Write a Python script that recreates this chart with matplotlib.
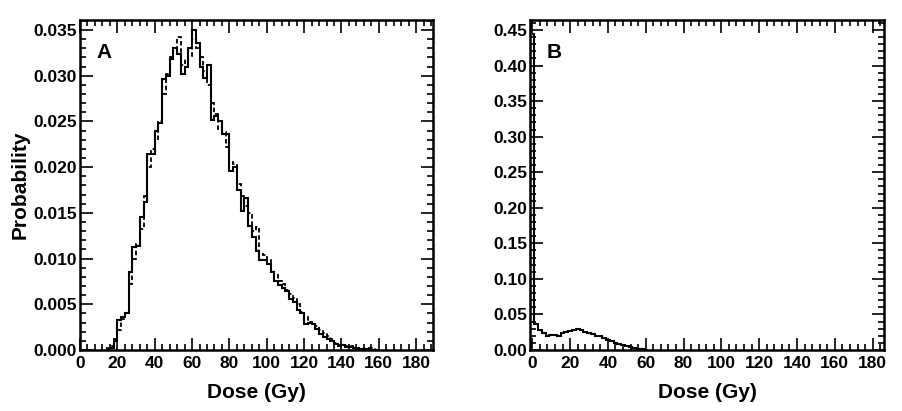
import matplotlib
matplotlib.use("Agg")
import matplotlib.pyplot as plt
import numpy as np
from matplotlib.ticker import MultipleLocator, FormatStrFormatter

plt.rcParams['font.family'] = ['Liberation Sans', 'DejaVu Sans']
plt.rcParams['font.weight'] = 'bold'

# panel A: 2 Gy bins from 14 to 160 Gy
edges_a = np.arange(14, 162, 2)
solid_a = [0.0000, 0.0002, 0.0010, 0.0033, 0.0036, 0.0040, 0.0085, 0.0113, 0.0114, 0.0146,
           0.0162, 0.0214, 0.0214, 0.0240, 0.0248, 0.0296, 0.0300, 0.0318, 0.0330, 0.0324,
           0.0302, 0.0310, 0.0330, 0.0350, 0.0336, 0.0310, 0.0298, 0.0312, 0.0252, 0.0256,
           0.0250, 0.0236, 0.0236, 0.0196, 0.0200, 0.0175, 0.0152, 0.0166, 0.0136, 0.0124,
           0.0108, 0.0098, 0.0098, 0.0094, 0.0085, 0.0076, 0.0071, 0.0068, 0.0064, 0.0056,
           0.0053, 0.0044, 0.0040, 0.0028, 0.0030, 0.0028, 0.0023, 0.0018, 0.0014, 0.0012,
           0.0010, 0.0007, 0.0004, 0.0005, 0.0003, 0.0003, 0.0002, 0.0001, 0.0001, 0.0001,
           0.0000, 0.0000, 0.0000]
dashed_a = [0.0002, 0.0004, 0.0012, 0.0022, 0.0034, 0.0040, 0.0072, 0.0100, 0.0116, 0.0132,
            0.0168, 0.0200, 0.0220, 0.0230, 0.0250, 0.0280, 0.0302, 0.0320, 0.0328, 0.0342,
            0.0312, 0.0318, 0.0322, 0.0340, 0.0330, 0.0320, 0.0305, 0.0290, 0.0270, 0.0258,
            0.0242, 0.0238, 0.0222, 0.0206, 0.0204, 0.0182, 0.0168, 0.0158, 0.0150, 0.0130,
            0.0135, 0.0105, 0.0104, 0.0098, 0.0088, 0.0082, 0.0076, 0.0072, 0.0066, 0.0061,
            0.0057, 0.0050, 0.0042, 0.0036, 0.0031, 0.0030, 0.0026, 0.0022, 0.0019, 0.0015,
            0.0012, 0.0008, 0.0006, 0.0006, 0.0004, 0.0004, 0.0003, 0.0002, 0.0002, 0.0001,
            0.0002, 0.0002, 0.0000]

# panel B
edges_b = [0, 1] + list(range(3, 63, 2))
vals_b = [0.445, 0.037, 0.028, 0.024, 0.020, 0.021, 0.021, 0.019, 0.024, 0.026,
          0.027, 0.028, 0.029, 0.028, 0.026, 0.024, 0.022, 0.020, 0.019, 0.017,
          0.014, 0.012, 0.010, 0.008, 0.007, 0.005, 0.004, 0.003, 0.002, 0.001, 0.0005]

fig = plt.figure(figsize=(9.03, 4.11), dpi=100)
axA = fig.add_axes([80/903, 61/411, 353/903, 330/411])
axB = fig.add_axes([530/903, 61/411, 354/903, 330/411])


def hist_line(ax, edges, vals, **kw):
    ax.stairs(vals, edges, baseline=None, color='black', **kw)


hist_line(axA, edges_a, dashed_a, lw=1.3, linestyle=(0, (2.5, 1.5)))
hist_line(axA, edges_a, solid_a, lw=1.5)
hist_line(axB, edges_b, vals_b, lw=1.5)

axA.set_xlim(0, 189)
axA.set_ylim(0, 0.0361)
axB.set_xlim(-1.2, 186)
axB.set_ylim(0, 0.464)

for ax, ymaj, ymin, fmt in [(axA, 0.005, 0.001, '%.3f'), (axB, 0.05, 0.01, '%.2f')]:
    ax.xaxis.set_major_locator(MultipleLocator(20))
    ax.xaxis.set_minor_locator(MultipleLocator(4))
    ax.yaxis.set_major_locator(MultipleLocator(ymaj))
    ax.yaxis.set_minor_locator(MultipleLocator(ymin))
    ax.yaxis.set_major_formatter(FormatStrFormatter(fmt))
    ax.tick_params(which='both', direction='in', top=True, right=True, width=1.2,
                   labelsize=12.5)
    ax.tick_params(which='major', length=9)
    ax.tick_params(which='minor', length=4.5)
    ax.tick_params(axis='x', pad=4)
    ax.tick_params(axis='y', pad=2)
    for s in ax.spines.values():
        s.set_linewidth(1.8)
    ax.set_xlabel('Dose (Gy)', fontsize=15, fontweight='bold', labelpad=9)

axA.set_ylabel('Probability', fontsize=15, fontweight='bold', labelpad=3)
axA.text(0.048, 0.9, 'A', transform=axA.transAxes, fontsize=15, fontweight='bold',
         va='center')
axB.text(0.048, 0.9, 'B', transform=axB.transAxes, fontsize=15, fontweight='bold',
         va='center')

fig.savefig('out.png', dpi=100)
